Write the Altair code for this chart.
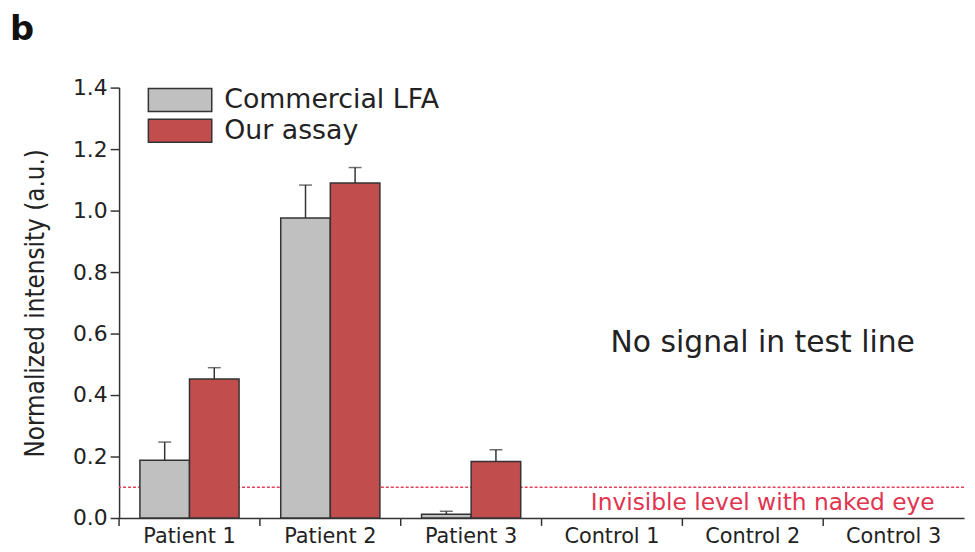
import altair as alt
import pandas as pd

categories = ["Patient 1", "Patient 2", "Patient 3", "Control 1", "Control 2", "Control 3"]
series = ["Commercial LFA", "Our assay"]
patients = ["Patient 1", "Patient 2", "Patient 3"]
lfa_values = [0.188, 0.976, 0.012]
lfa_upper = [0.247, 1.083, 0.022]
assay_values = [0.452, 1.090, 0.184]
assay_upper = [0.489, 1.140, 0.222]
y_ticks = [0.0, 0.2, 0.4, 0.6, 0.8, 1.0, 1.2, 1.4]
threshold = 0.1
notes = ["No signal in test line", "Invisible level with naked eye"]
note_cats = ["Control 2", "Control 2"]
note_y = [0.57, 0.05]

rows = []
for i, p in enumerate(patients):
    rows.append({"cat": p, "series": series[0], "value": lfa_values[i], "upper": lfa_upper[i]})
    rows.append({"cat": p, "series": series[1], "value": assay_values[i], "upper": assay_upper[i]})
df = pd.DataFrame(rows)
cat_df = pd.DataFrame({"cat": categories})
note_df = pd.DataFrame({"cat": note_cats, "y": note_y, "text": notes, "kind": ["main", "level"]})
thr_df = pd.DataFrame({"y": [threshold]})

FONT = "DejaVu Sans"
DARK = "#333333"

xscale = alt.Scale(domain=categories, paddingInner=0, paddingOuter=0)
yscale = alt.Scale(domain=[0, 1.4], nice=False, zero=True)
xoff_scale = alt.Scale(domain=series, paddingInner=0, paddingOuter=0.42)

x_enc = alt.X("cat:N", scale=xscale, sort=categories,
              axis=alt.Axis(title=None, ticks=False, labelAngle=0, labelFontSize=21,
                            labelFont=FONT, labelColor="#222", labelPadding=8,
                            domainColor=DARK, domainWidth=1.5))
y_enc = alt.Y("value:Q", scale=yscale,
              axis=alt.Axis(title="Normalized intensity (a.u.)", values=y_ticks, format=".1f",
                            tickSize=9, tickColor=DARK, tickWidth=1.5, domainColor=DARK,
                            domainWidth=1.5, labelFontSize=22, labelFont=FONT, labelColor="#222",
                            labelPadding=3, grid=False,
                            titleFont="DejaVu Sans Condensed, Liberation Sans Narrow, Liberation Sans",
                            titleFontSize=26,
                            titleFontWeight="normal", titleColor="#222",
                            titleAngle=270, titleX=-84, titleY=217,
                            titleAlign="center", titleBaseline="middle"))

color = alt.Color("series:N", scale=alt.Scale(domain=series, range=["#c0c0c0", "#c24d4d"]),
                  legend=alt.Legend(title=None, orient="none", legendX=48, legendY=-1,
                                    symbolType="M-2.78,-1H2.78V1H-2.78Z", symbolSize=529,
                                    symbolStrokeColor=DARK, symbolStrokeWidth=1.5,
                                    symbolOpacity=1, labelFont=FONT, labelFontSize=27,
                                    labelColor="#222", labelOffset=31, rowPadding=2,
                                    padding=0, labelLimit=400))

bars = alt.Chart(df).mark_bar(stroke=DARK, strokeWidth=1.5, opacity=1).encode(
    x=x_enc, y=y_enc, xOffset=alt.XOffset("series:N", scale=xoff_scale, sort=series),
    color=color)

err = alt.Chart(df).mark_rule(color=DARK, strokeWidth=1.5).encode(
    x=alt.X("cat:N", scale=xscale, sort=categories),
    xOffset=alt.XOffset("series:N", scale=xoff_scale, sort=series),
    y=alt.Y("value:Q", scale=yscale), y2="upper:Q")

caps = alt.Chart(df).mark_tick(color=DARK, thickness=1.5, size=13, orient="horizontal").encode(
    x=alt.X("cat:N", scale=xscale, sort=categories),
    xOffset=alt.XOffset("series:N", scale=xoff_scale, sort=series),
    y=alt.Y("upper:Q", scale=yscale))

xticks = alt.Chart(cat_df).mark_rule(color=DARK, strokeWidth=1.5).encode(
    x=alt.X("cat:N", scale=xscale, sort=categories, bandPosition=0),
    y=alt.value(434), y2=alt.value(442))

thr = alt.Chart(thr_df).mark_rule(color="#e6405a", strokeWidth=1.6, strokeDash=[3, 2]).encode(
    y=alt.Y("y:Q", scale=yscale))

main_note = alt.Chart(note_df).transform_filter(alt.datum.kind == "main").mark_text(
    font=FONT, fontSize=30, color="#222", align="center", baseline="middle", dx=10).encode(
    x=alt.X("cat:N", scale=xscale, sort=categories), y=alt.Y("y:Q", scale=yscale), text="text:N")

level_note = alt.Chart(note_df).transform_filter(alt.datum.kind == "level").mark_text(
    font=FONT, fontSize=23.5, color="#e0344f", align="center", baseline="middle", dx=10).encode(
    x=alt.X("cat:N", scale=xscale, sort=categories), y=alt.Y("y:Q", scale=yscale), text="text:N")

chart = alt.layer(thr, bars, err, caps, xticks, main_note, level_note).properties(
    width=852, height=434,
    autosize=alt.AutoSizeParams(type="none"),
    padding={"left": 112, "top": 78, "right": 3, "bottom": 32},
    background="white",
    title=alt.TitleParams("b", anchor="start", frame="group", fontSize=34, fontWeight="bold",
                          font=FONT, color="#111", dx=-110, offset=30),
).configure_view(stroke=None)

chart.save("out.html", embed_options={"renderer": "svg", "actions": False})
